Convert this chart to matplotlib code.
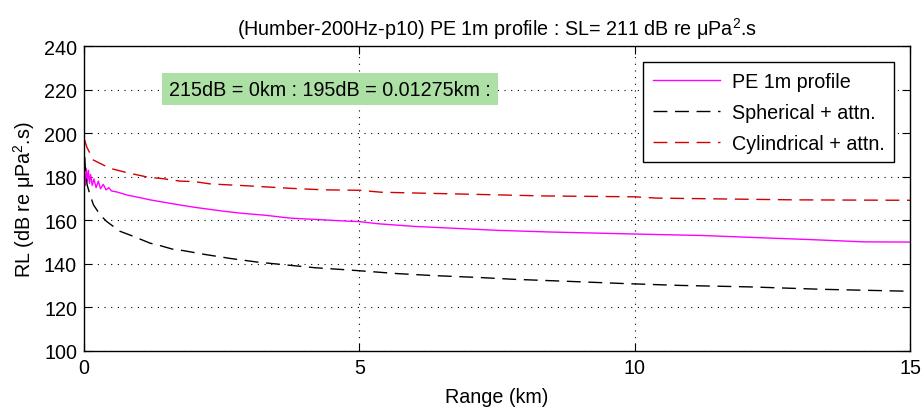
import numpy as np
import matplotlib as mpl
mpl.use("Agg")
import matplotlib.pyplot as plt

# 字体设置
mpl.rcParams["font.family"] = ["Liberation Sans", "DejaVu Sans"]
mpl.rcParams["mathtext.fontset"] = "custom"
mpl.rcParams["mathtext.rm"] = "Liberation Sans"
mpl.rcParams["axes.unicode_minus"] = False

# PE 1m profile 曲线数据
pe_range = [0.01, 0.02, 0.04, 0.06, 0.08, 0.10, 0.12, 0.15, 0.18, 0.22, 0.26, 0.30, 0.35,
            0.40, 0.45, 0.50, 0.60, 0.80, 1.0, 1.2, 1.38, 1.8, 2.0, 2.53, 2.84, 3.3, 3.75,
            4.8, 5.0, 5.35, 6.0, 6.75, 7.5, 8.5, 10.0, 11.25, 12.38, 13.23, 14.16, 15.0]
pe_rl = [178, 176, 184, 178, 183, 177, 181, 176, 179, 175, 178, 174.5, 176.5,
         174, 175, 173.5, 173, 171.5, 170.5, 169.4, 168.6, 166.8, 166, 164.2, 163.3, 162.3, 161,
         159.6, 159.4, 158.4, 157.2, 156.3, 155.4, 154.6, 153.7, 153, 151.9, 151.1, 150.1, 150]

# 球面扩展 + 衰减
sph_range = [0.013, 0.03, 0.06, 0.11, 0.17, 0.29, 0.41, 0.65, 0.89, 1.2, 1.38, 1.6, 1.8,
             2.2, 2.65, 3.15, 3.75, 4.2, 4.8, 5.7, 6.35, 7.2, 7.8, 8.75, 9.75, 10.8, 12.1,
             13.4, 15.0]
sph_rl = [189, 181, 176, 171.7, 167.2, 162.6, 159.5, 155, 152.7, 149.5, 148.4, 146.8, 146.1,
          144.3, 142.5, 140.8, 139.3, 138.2, 137.2, 135.5, 134.6, 133.7, 132.9, 132, 131, 130.1, 129.4,
          128.3, 127.4]

# 柱面扩展 + 衰减
cyl_range = [0.01, 0.05, 0.17, 0.47, 0.78, 1.2, 1.38, 1.75, 2.0, 2.3, 2.85, 3.07, 3.75,
             4.35, 5.0, 5.4, 6.8, 8.35, 10.0, 10.4, 12.9, 15.0]
cyl_rl = [197, 193.7, 187.7, 183.9, 181.9, 179.6, 179.3, 178, 177.8, 176.7, 176, 175.7, 174.7,
          174, 173.8, 172.9, 172.1, 171.2, 170.8, 170.2, 169.4, 169.2]

x_ticks = [0, 5, 10, 15]
y_ticks = [100, 120, 140, 160, 180, 200, 220, 240]
note = "215dB = 0km : 195dB = 0.01275km :"

fs = 14.2
fig = plt.figure(figsize=(9.23, 4.14), dpi=100, facecolor="w")
ax = fig.add_axes([0.091, 0.150, 0.895, 0.736])

ax.plot(pe_range, pe_rl, color="#ff00ff", lw=1.0, label="PE 1m profile")
ax.plot(sph_range, sph_rl, color="k", lw=1.0, dashes=(10, 5.5), label="Spherical + attn.")
ax.plot(cyl_range, cyl_rl, color="#d40000", lw=1.0, dashes=(10, 5.5), label="Cylindrical + attn.")

ax.set_xlim(0, 15)
ax.set_ylim(100, 240)
ax.set_xticks(x_ticks)
ax.set_yticks(y_ticks)
ax.grid(True, color="k", linestyle=(0, (1, 5)), lw=0.8)
ax.tick_params(direction="in", length=6, top=True, right=True, labelsize=fs, pad=5)
for s in ax.spines.values():
    s.set_linewidth(1.0)

ax.set_xlabel("Range (km)", fontsize=fs, labelpad=7)
ax.set_ylabel("RL (dB re \u03bcPa$^2$.s)", fontsize=fs, labelpad=5)
ax.set_title("(Humber-200Hz-p10) PE 1m profile : SL= 211 dB re \u03bcPa$^2$.s", fontsize=fs, pad=8)

ax.text(1.55, 220.3, note, fontsize=fs, va="center", ha="left",
        bbox=dict(boxstyle="square,pad=0.35", facecolor="#ade0a4", edgecolor="none"))

leg = ax.legend(loc="upper right", fontsize=fs, frameon=True, fancybox=False,
                handlelength=3.4, handletextpad=0.6, borderaxespad=0.8,
                labelspacing=0.6, borderpad=0.5)
leg.get_frame().set_edgecolor("k")
leg.get_frame().set_linewidth(1.0)
leg.get_frame().set_alpha(1)

plt.savefig("out.png", dpi=100, facecolor="w")
